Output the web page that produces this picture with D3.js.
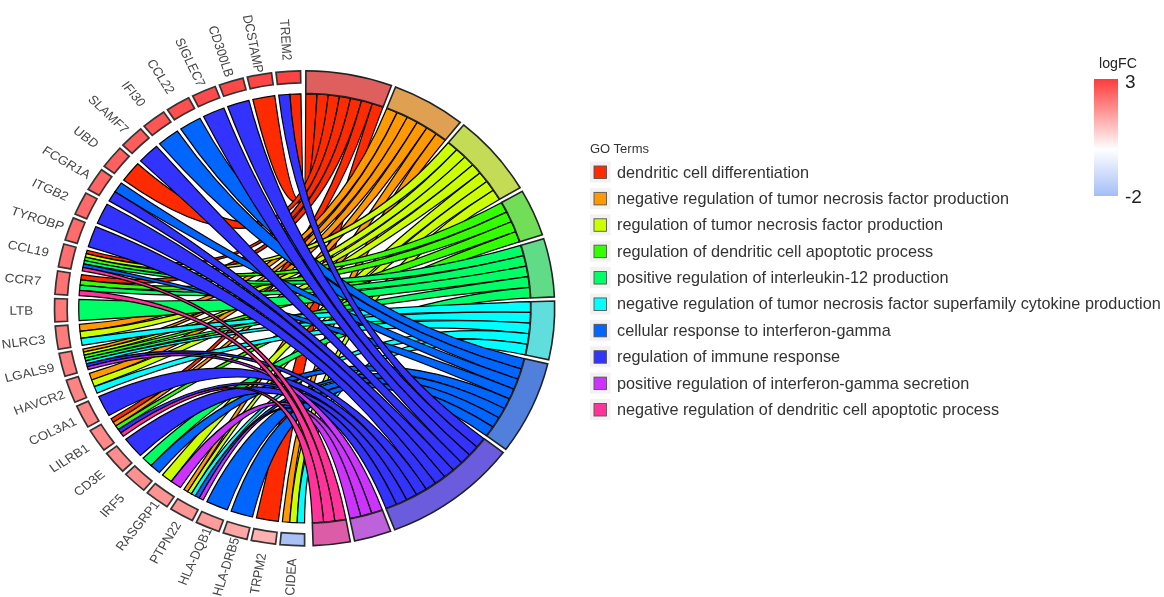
<!DOCTYPE html>
<html>
<head>
<meta charset="utf-8">
<script src="https://cdn.jsdelivr.net/npm/d3@7"></script>
<style>
  html, body { margin: 0; background: #fff; }
  svg { display: block; font-family: "Liberation Sans", sans-serif; filter: blur(0.5px); }
</style>
</head>
<body>
<svg id="chart" width="1164" height="597"></svg>
<script>
// GO terms, clockwise from the top
const terms = [
  "dendritic cell differentiation",
  "negative regulation of tumor necrosis factor production",
  "regulation of tumor necrosis factor production",
  "regulation of dendritic cell apoptotic process",
  "positive regulation of interleukin-12 production",
  "negative regulation of tumor necrosis factor superfamily cytokine production",
  "cellular response to interferon-gamma",
  "regulation of immune response",
  "positive regulation of interferon-gamma secretion",
  "negative regulation of dendritic cell apoptotic process"
];
const ribbonColors = ["#ff2b00", "#ff9900", "#ccff00", "#33ff00", "#00ff66", "#00ffff", "#0066ff", "#3333ff", "#cc33ff", "#ff3399"];
const termRingColors = ["#df5f5f", "#e0a052", "#c4dc55", "#72de58", "#60dc88", "#60dede", "#5080dc", "#6a5cdc", "#be62dc", "#dc5ca8"];

// genes, clockwise from the bottom
const genes = ["CIDEA", "TRPM2", "HLA-DRB5", "HLA-DQB1", "PTPN22", "RASGRP1", "IRF5", "CD3E", "LILRB1", "COL3A1",
  "HAVCR2", "LGALS9", "NLRC3", "LTB", "CCR7", "CCL19", "TYROBP", "ITGB2", "FCGR1A", "UBD", "SLAMF7", "IFI30",
  "CCL22", "SIGLEC7", "CD300LB", "DCSTAMP", "TREM2"];
const logFC = [-1.9, 1.2, 1.35, 1.5, 1.6, 1.65, 1.7, 1.75, 1.8, 1.85,
  1.9, 1.95, 2.0, 2.05, 2.15, 2.2, 2.25, 2.3, 2.35, 2.45, 2.5, 2.6,
  2.7, 2.75, 2.8, 2.85, 2.9];
// term index of each ribbon leaving a gene
const geneTerms = [
  [5, 2, 1], [0], [6], [6], [8, 6, 5, 2, 1], [8, 2], [6, 4], [7], [9, 7, 3, 1, 0], [7],
  [5, 2, 1], [8, 7, 5, 4, 3, 2, 1], [5, 2, 1], [4], [9, 4, 3, 0], [9, 6, 4, 3, 2, 0], [7], [7], [7, 6], [0], [7], [6],
  [6], [7], [7], [0], [7, 0]
];
const logfcTicks = [3, -2];

const svg = d3.select("#chart");
const rad = Math.PI / 180;
const cx = 304.6, cy = 308.3, stretch = 1.053;
const rOuter = 237.5, rTermIn = 215, rGeneIn = 225.5, rRibbon = 214.5, rLabel = 269;
const termUnit = 2.86, termGap = 1, termStart = 0.3;
const geneStart = 180, genePitch = 6.67, geneWidth = 5.65;

const color = d3.scaleLinear().domain([-2, 0, 3]).range(["#a4bef5", "#ffffff", "#ff3b3b"]);

// term spans
const termCount = terms.map((t, i) => d3.sum(geneTerms, g => g.includes(i) ? 1 : 0));
let pos = termStart;
const termSpans = termCount.map(n => {
  const s = { a0: pos, a1: pos + n * termUnit };
  pos = s.a1 + termGap;
  return s;
});

const geneAngle = d3.scaleLinear().domain([0, genes.length - 1]).range([geneStart, geneStart + (genes.length - 1) * genePitch]);

// build the links, nested so neighbours do not cross
const links = [];
terms.forEach((t, ti) => {
  let k = 0;
  for (let gi = genes.length - 1; gi >= 0; gi--) {
    const slot = geneTerms[gi].indexOf(ti);
    if (slot < 0) continue;
    const w = geneWidth / geneTerms[gi].length;
    const g0 = geneAngle(gi) + slot * w;
    links.push({
      term: ti,
      a0: termSpans[ti].a0 + k * termUnit,
      a1: termSpans[ti].a0 + (k + 1) * termUnit,
      g0: g0,
      g1: g0 + w
    });
    k++;
  }
});

function ribbon(d) {
  const p = d3.path();
  const pt = a => [rRibbon * Math.sin(a * rad), -rRibbon * Math.cos(a * rad)];
  p.moveTo(...pt(d.a0));
  p.arc(0, 0, rRibbon, (d.a0 - 90) * rad, (d.a1 - 90) * rad);
  p.quadraticCurveTo(0, 0, ...pt(d.g0));
  p.arc(0, 0, rRibbon, (d.g0 - 90) * rad, (d.g1 - 90) * rad);
  p.quadraticCurveTo(0, 0, ...pt(d.a0));
  p.closePath();
  return p.toString();
}

const chord = svg.append("g").attr("transform", `translate(${cx},${cy}) scale(${stretch},1)`);

chord.append("g").selectAll("path")
  .data(links)
  .join("path")
  .attr("d", ribbon)
  .attr("fill", d => ribbonColors[d.term])
  .attr("stroke", "#000")
  .attr("stroke-width", 1.2)
  .attr("vector-effect", "non-scaling-stroke");

const termArc = d3.arc().innerRadius(rTermIn).outerRadius(rOuter)
  .startAngle(d => d.a0 * rad).endAngle(d => d.a1 * rad);
chord.append("g").selectAll("path")
  .data(termSpans)
  .join("path")
  .attr("d", termArc)
  .attr("fill", (d, i) => termRingColors[i])
  .attr("stroke", "#222")
  .attr("stroke-width", 1.6)
  .attr("vector-effect", "non-scaling-stroke");

const geneArc = d3.arc().innerRadius(rGeneIn).outerRadius(rOuter)
  .startAngle((d, i) => geneAngle(i) * rad).endAngle((d, i) => (geneAngle(i) + geneWidth) * rad);
chord.append("g").selectAll("path")
  .data(genes)
  .join("path")
  .attr("d", geneArc)
  .attr("fill", (d, i) => color(logFC[i]))
  .attr("stroke", "#333")
  .attr("stroke-width", 1.7)
  .attr("vector-effect", "non-scaling-stroke");

// gene labels, centred on a circle outside the ring
svg.append("g").selectAll("text")
  .data(genes)
  .join("text")
  .attr("transform", (d, i) => {
    const a = geneAngle(i) + geneWidth / 2;
    const x = cx + stretch * rLabel * Math.sin(a * rad);
    const y = cy - rLabel * Math.cos(a * rad);
    return `translate(${x},${y}) scale(1.1,1) rotate(${a - 270})`;
  })
  .attr("text-anchor", "middle")
  .attr("dy", "0.35em")
  .attr("font-size", 12.2)
  .attr("fill", "#444")
  .text(d => d);

// term legend
const legendY = d3.scalePoint().domain(terms).range([172, 409.5]);
svg.append("text")
  .attr("x", 590).attr("y", 152.5)
  .attr("font-size", 13)
  .attr("fill", "#333")
  .text("GO Terms");
const legend = svg.append("g").selectAll("g")
  .data(terms)
  .join("g")
  .attr("transform", d => `translate(590,${legendY(d)})`);
legend.append("rect")
  .attr("y", -10.5).attr("width", 20.5).attr("height", 21)
  .attr("fill", "#f2f2f2");
legend.append("rect")
  .attr("x", 4).attr("y", -6).attr("width", 12.5).attr("height", 12.5)
  .attr("fill", (d, i) => ribbonColors[i])
  .attr("stroke", "#555")
  .attr("stroke-width", 0.9);
legend.append("text")
  .attr("transform", "translate(27,0) scale(1.03,1)")
  .attr("dy", "0.35em")
  .attr("font-size", 15.8)
  .attr("fill", "#333")
  .text(d => d);

// logFC colour bar
const barY = d3.scaleLinear().domain(d3.extent(logfcTicks)).range([196, 79]);
const defs = svg.append("defs");
const grad = defs.append("linearGradient").attr("id", "logfc").attr("x1", 0).attr("x2", 0).attr("y1", 1).attr("y2", 0);
grad.selectAll("stop")
  .data(color.domain())
  .join("stop")
  .attr("offset", d => (d + 2) / 5)
  .attr("stop-color", d => color(d));
svg.append("rect")
  .attr("x", 1094).attr("y", barY(3)).attr("width", 24).attr("height", barY(-2) - barY(3))
  .attr("fill", "url(#logfc)");
svg.append("text")
  .attr("x", 1118).attr("y", 67.5)
  .attr("text-anchor", "middle")
  .attr("font-size", 14.2)
  .attr("fill", "#222")
  .text("logFC");
svg.append("g").selectAll("text")
  .data(logfcTicks)
  .join("text")
  .attr("x", 1125)
  .attr("y", d => barY(d) + (d < 0 ? 7 : 9))
  .attr("font-size", 19)
  .attr("fill", "#222")
  .text(d => d);
</script>
</body>
</html>
